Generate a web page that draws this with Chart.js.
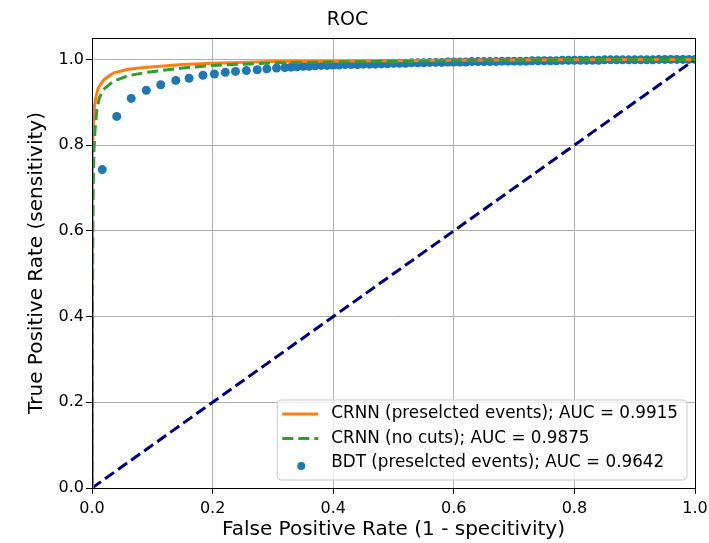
<!DOCTYPE html>
<html>
<head>
<meta charset="utf-8">
<script src="https://cdn.jsdelivr.net/npm/chart.js@4.4.1/dist/chart.umd.min.js"></script>
<style>
  html, body { margin: 0; padding: 0; background: #fff; }
  #wrap { width: 709px; height: 543px; }
</style>
</head>
<body>
<div id="wrap"><canvas id="roc"></canvas></div>
<script>
// CRNN, preselected events
const crnnPreFpr = [0, 0.0003, 0.0008, 0.0015, 0.0025, 0.004, 0.0066, 0.01, 0.019, 0.035, 0.06, 0.091, 0.15, 0.2, 0.3, 0.4, 0.6, 0.8, 1.0]
const crnnPreTpr = [0, 0.35, 0.62, 0.78, 0.85, 0.89, 0.913, 0.932, 0.952, 0.968, 0.977, 0.982, 0.988, 0.991, 0.995, 0.996, 0.998, 0.999, 1.0]

// CRNN, no cuts
const crnnAllFpr = [0, 0.0005, 0.0012, 0.002, 0.003, 0.005, 0.008, 0.012, 0.019, 0.035, 0.06, 0.091, 0.15, 0.2, 0.3, 0.4, 0.6, 0.8, 1.0]
const crnnAllTpr = [0, 0.3, 0.55, 0.7, 0.78, 0.836, 0.883, 0.91, 0.93, 0.949, 0.962, 0.97, 0.98, 0.986, 0.992, 0.994, 0.997, 0.999, 1.0]

// BDT, preselected events (one point per threshold)
const bdtFpr = [
  0.017, 0.041, 0.065, 0.09, 0.114, 0.139, 0.161, 0.184, 0.203, 0.221, 0.238, 0.256, 0.274, 0.29, 0.306,
  0.32, 0.33, 0.34, 0.35, 0.36, 0.37, 0.38, 0.39, 0.40,
  0.41, 0.42, 0.43, 0.44, 0.45, 0.46, 0.47, 0.48, 0.49, 0.50,
  0.51, 0.52, 0.53, 0.54, 0.55, 0.56, 0.57, 0.58, 0.59, 0.60,
  0.61, 0.62, 0.63, 0.64, 0.65, 0.66, 0.67, 0.68, 0.69, 0.70,
  0.71, 0.72, 0.73, 0.74, 0.75, 0.76, 0.77, 0.78, 0.79, 0.80,
  0.81, 0.82, 0.83, 0.84, 0.85, 0.86, 0.87, 0.88, 0.89, 0.90,
  0.91, 0.92, 0.93, 0.94, 0.95, 0.96, 0.97, 0.98, 0.99, 1.00
]
const bdtTpr = [
  0.743, 0.867, 0.909, 0.928, 0.941, 0.951, 0.956, 0.963, 0.966, 0.97, 0.972, 0.974, 0.976, 0.978, 0.98,
  0.981, 0.982, 0.983, 0.984, 0.984, 0.985, 0.986, 0.986, 0.987,
  0.987, 0.988, 0.988, 0.988, 0.989, 0.989, 0.989, 0.99, 0.99, 0.991,
  0.991, 0.991, 0.992, 0.992, 0.992, 0.993, 0.993, 0.993, 0.994, 0.994,
  0.994, 0.994, 0.995, 0.995, 0.995, 0.995, 0.995, 0.996, 0.996, 0.996,
  0.996, 0.996, 0.997, 0.997, 0.997, 0.997, 0.997, 0.998, 0.998, 0.998,
  0.998, 0.998, 0.998, 0.998, 0.999, 0.999, 0.999, 0.999, 0.999, 0.999,
  0.999, 0.999, 0.999, 1.0, 1.0, 1.0, 1.0, 1.0, 1.0, 1.0
]

// chance line
const chanceFpr = [0, 1]
const chanceTpr = [0, 1]

const tickValues = [0, 0.2, 0.4, 0.6, 0.8, 1.0]

const legendLabels = [
  "CRNN (preselcted events); AUC = 0.9915",
  "CRNN (no cuts); AUC = 0.9875",
  "BDT (preselcted events); AUC = 0.9642"
]

const toPoints = (xs, ys) => xs.map((x, i) => ({ x, y: ys[i] }))

Chart.defaults.font.family = "'DejaVu Sans', sans-serif"
Chart.defaults.color = "#000"

// matplotlib-style box around the axes
const frame = {
  id: "frame",
  afterDatasetsDraw(chart) {
    const { ctx, chartArea: a } = chart
    ctx.save()
    ctx.strokeStyle = "#000"
    ctx.lineWidth = 1
    ctx.strokeRect(Math.round(a.left) + 0.5, Math.round(a.top) + 0.5, Math.round(a.right - a.left), Math.round(a.bottom - a.top))
    ctx.restore()
  }
}

// legend inside the axes, lower right
const legendBox = {
  id: "legendBox",
  afterDraw(chart) {
    const { ctx, chartArea: a } = chart
    const ds = chart.data.datasets
    ctx.save()
    ctx.font = "16.8px 'DejaVu Sans', sans-serif"
    const textW = Math.max(...legendLabels.map(t => ctx.measureText(t).width))
    const w = textW + 63
    const h = 80
    const x = a.right - 8 - w
    const y = a.bottom - 8 - h

    ctx.beginPath()
    ctx.roundRect(x, y, w, h, 4)
    ctx.fillStyle = "rgba(255,255,255,0.8)"
    ctx.fill()
    ctx.strokeStyle = "#cccccc"
    ctx.lineWidth = 1
    ctx.stroke()

    const rows = [y + 14, y + 38.5, y + 63]
    ctx.textBaseline = "middle"
    ctx.textAlign = "left"
    ctx.fillStyle = "#000"
    legendLabels.forEach((t, i) => ctx.fillText(t, x + 54, rows[i]))

    // sample marks
    for (let i = 0; i < 2; i++) {
      const d = ds[i]
      ctx.beginPath()
      ctx.setLineDash(d.borderDash || [])
      ctx.strokeStyle = d.borderColor
      ctx.lineWidth = d.borderWidth
      ctx.moveTo(x + 5, rows[i])
      ctx.lineTo(x + 41, rows[i])
      ctx.stroke()
    }
    ctx.setLineDash([])
    ctx.beginPath()
    ctx.fillStyle = ds[2].backgroundColor
    ctx.arc(x + 24, rows[2] + 3, 4, 0, Math.PI * 2)
    ctx.fill()
    ctx.restore()
  }
}

new Chart(document.getElementById("roc"), {
  type: "scatter",
  data: {
    datasets: [
      {
        label: legendLabels[0],
        data: toPoints(crnnPreFpr, crnnPreTpr),
        showLine: true,
        borderColor: "#ff7f0e",
        backgroundColor: "#ff7f0e",
        borderWidth: 3,
        pointRadius: 0,
        tension: 0,
        order: 2
      },
      {
        label: legendLabels[1],
        data: toPoints(crnnAllFpr, crnnAllTpr),
        showLine: true,
        borderColor: "#2ca02c",
        backgroundColor: "#2ca02c",
        borderWidth: 3,
        borderDash: [11, 5],
        pointRadius: 0,
        tension: 0,
        order: 1
      },
      {
        label: legendLabels[2],
        data: toPoints(bdtFpr, bdtTpr),
        showLine: false,
        backgroundColor: "#1f77b4",
        borderWidth: 0,
        pointRadius: 4.5,
        order: 4
      },
      {
        label: "chance",
        data: toPoints(chanceFpr, chanceTpr),
        showLine: true,
        borderColor: "#000080",
        borderWidth: 3,
        borderDash: [11, 5],
        pointRadius: 0,
        order: 3
      }
    ]
  },
  options: {
    responsive: true,
    maintainAspectRatio: false,
    animation: false,
    devicePixelRatio: 1,
    layout: { padding: { top: 0, right: 14, bottom: 0, left: 0 } },
    plugins: {
      legend: { display: false },
      tooltip: { enabled: false },
      title: {
        display: true,
        text: "ROC",
        font: { size: 19, weight: "normal" },
        color: "#000",
        padding: { top: 8.5, bottom: 6.7 }
      }
    },
    scales: {
      x: {
        type: "linear",
        min: 0,
        max: 1,
        afterBuildTicks: (s) => { s.ticks = tickValues.map(v => ({ value: v })) },
        afterFit: (s) => {
          s.height = 55
          s.paddingLeft = 0
          s.paddingRight = 0
        },
        ticks: {
          font: { size: 16 },
          color: "#000",
          padding: 5,
          maxRotation: 0,
          callback: (v) => v.toFixed(1)
        },
        grid: { color: "#b0b0b0", tickColor: "#000", tickLength: 6, lineWidth: 1 },
        border: { display: false },
        title: {
          display: true,
          text: "False Positive Rate (1 - specitivity)",
          font: { size: 20 },
          color: "#000",
          padding: { top: 2, bottom: 1 }
        }
      },
      y: {
        type: "linear",
        min: 0,
        max: 1.05,
        afterBuildTicks: (s) => { s.ticks = tickValues.map(v => ({ value: v })) },
        afterFit: (s) => {
          s.width = 92
          s.paddingTop = 0
          s.paddingBottom = 0
        },
        ticks: {
          font: { size: 16 },
          color: "#000",
          padding: 2,
          callback: (v) => v.toFixed(1)
        },
        grid: { color: "#b0b0b0", tickColor: "#000", tickLength: 6, lineWidth: 1 },
        border: { display: false },
        title: {
          display: true,
          text: "True Positive Rate (sensitivity)",
          font: { size: 20 },
          color: "#000",
          padding: { top: 25, bottom: 0 }
        }
      }
    }
  },
  plugins: [frame, legendBox]
})
</script>
</body>
</html>
